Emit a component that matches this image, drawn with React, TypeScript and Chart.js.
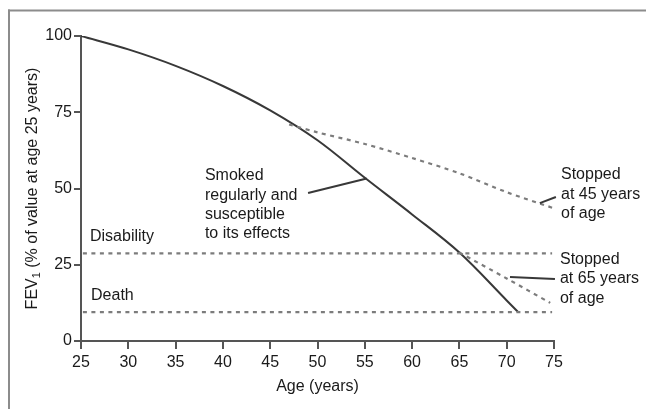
import React, { useEffect, useRef } from "react";
import { Chart, registerables } from "chart.js";

Chart.register(...registerables);

// ---- data ----
const smokedAges = [25, 30, 35, 40, 45, 50, 55, 60, 65, 70, 71.2];
const smokedValues = [100, 95.6, 90.2, 83.6, 75.6, 65.8, 53.5, 41.5, 29, 13.3, 9.5];

const stop45Ages = [47, 50, 55, 60, 65, 70, 75];
const stop45Values = [71, 68.4, 64.6, 60, 55, 48.8, 43.5];

const stop65Ages = [65, 70, 74.6];
const stop65Values = [29, 20.5, 12.5];

const disabilityLevel = 28.7;
const deathLevel = 9.5;
const thresholdStart = 25.2;
const thresholdEnd = 74.8;

const xTicks = [25, 30, 35, 40, 45, 50, 55, 60, 65, 70, 75];
const yTicks = [0, 25, 50, 75, 100];

const xTitle = "Age (years)";
const yTitleMain = "FEV";
const yTitleSub = "1";
const yTitleRest = " (% of value at age 25 years)";

// annotations in data coordinates
const textLabels = [
  { lines: ["Disability"], x: 25.95, y: 34.1 },
  { lines: ["Death"], x: 26.06, y: 14.75 },
  { lines: ["Smoked", "regularly and", "susceptible", "to its effects"], x: 38.1, y: 54.1 },
  { lines: ["Stopped", "at 45 years", "of age"], x: 75.74, y: 54.4 },
  { lines: ["Stopped", "at 65 years", "of age"], x: 75.63, y: 26.6 },
];
const pointerLines = [
  { x1: 49.0, y1: 48.5, x2: 55.2, y2: 53.3 },
  { x1: 73.5, y1: 45.2, x2: 75.2, y2: 47.2 },
  { x1: 70.35, y1: 21.0, x2: 75.1, y2: 20.3 },
];

const FONT = '"Liberation Sans", Arial, Helvetica, sans-serif';
const TEXT = "#1a1a1a";
const AXIS = "#555555";
const SOLID = "#383838";
const DASH = "#7c7c7c";

const toXY = (xs: number[], ys: number[]) => xs.map((x, i) => ({ x, y: ys[i] }));

const overlay = {
  id: "overlay",
  beforeDraw(chart: any) {
    const ctx = chart.ctx;
    ctx.save();
    ctx.fillStyle = "#ffffff";
    ctx.fillRect(0, 0, chart.width, chart.height);
    ctx.fillStyle = "#8c8c8c";
    ctx.fillRect(8, 9.5, chart.width - 8, 2);
    ctx.fillRect(8, 9.5, 2, chart.height - 9.5);
    ctx.restore();
  },
  afterDraw(chart: any) {
    const ctx = chart.ctx;
    const xs = chart.scales.x;
    const ys = chart.scales.y;
    const area = chart.chartArea;
    ctx.save();
    ctx.fillStyle = TEXT;
    ctx.font = `16px ${FONT}`;
    ctx.textBaseline = "middle";
    ctx.textAlign = "left";
    for (const t of textLabels) {
      const px = xs.getPixelForValue(t.x);
      const py = ys.getPixelForValue(t.y);
      t.lines.forEach((ln, i) => ctx.fillText(ln, px, py + i * 19.2));
    }
    ctx.strokeStyle = SOLID;
    ctx.lineWidth = 2;
    for (const p of pointerLines) {
      ctx.beginPath();
      ctx.moveTo(xs.getPixelForValue(p.x1), ys.getPixelForValue(p.y1));
      ctx.lineTo(xs.getPixelForValue(p.x2), ys.getPixelForValue(p.y2));
      ctx.stroke();
    }
    // x title
    ctx.textAlign = "center";
    ctx.fillText(xTitle, (area.left + area.right) / 2, area.bottom + 46);
    // y title with subscript
    const cx = 31;
    const cy = (area.top + area.bottom) / 2;
    ctx.translate(cx, cy);
    ctx.rotate(-Math.PI / 2);
    ctx.font = `16px ${FONT}`;
    const w1 = ctx.measureText(yTitleMain).width;
    const w3 = ctx.measureText(yTitleRest).width;
    ctx.font = `11px ${FONT}`;
    const w2 = ctx.measureText(yTitleSub).width;
    const total = w1 + w2 + w3;
    let sx = -total / 2;
    ctx.textAlign = "left";
    ctx.textBaseline = "alphabetic";
    ctx.font = `16px ${FONT}`;
    ctx.fillText(yTitleMain, sx, 6);
    sx += w1;
    ctx.font = `11px ${FONT}`;
    ctx.fillText(yTitleSub, sx, 9);
    sx += w2;
    ctx.font = `16px ${FONT}`;
    ctx.fillText(yTitleRest, sx, 6);
    ctx.restore();
  },
};

export default function App() {
  const ref = useRef<HTMLCanvasElement | null>(null);
  useEffect(() => {
    if (!ref.current) return;
    const dashed = {
      borderColor: DASH,
      borderWidth: 2.2,
      borderDash: [4, 4.5],
      pointRadius: 0,
      fill: false,
    };
    const chart = new Chart(ref.current, {
      type: "line",
      data: {
        datasets: [
          {
            label: "Disability",
            data: [
              { x: thresholdStart, y: disabilityLevel },
              { x: thresholdEnd, y: disabilityLevel },
            ],
            ...dashed,
          },
          {
            label: "Death",
            data: [
              { x: thresholdStart, y: deathLevel },
              { x: thresholdEnd, y: deathLevel },
            ],
            ...dashed,
          },
          {
            label: "Stopped at 45",
            data: toXY(stop45Ages, stop45Values),
            ...dashed,
            tension: 0.3,
          },
          {
            label: "Stopped at 65",
            data: toXY(stop65Ages, stop65Values),
            ...dashed,
            tension: 0.3,
          },
          {
            label: "Smoked regularly",
            data: toXY(smokedAges, smokedValues),
            borderColor: SOLID,
            borderWidth: 2,
            pointRadius: 0,
            fill: false,
            tension: 0.35,
          },
        ],
      } as any,
      options: {
        animation: false,
        responsive: false,
        devicePixelRatio: 1,
        layout: { padding: { left: 0, top: 36, right: 92, bottom: 0 } },
        plugins: {
          legend: { display: false },
          tooltip: { enabled: false },
          title: { display: false },
        },
        scales: {
          x: {
            type: "linear",
            min: 25,
            max: 75,
            afterFit(scale: any) {
              scale.height = 68;
            },
            afterBuildTicks(scale: any) {
              scale.ticks = xTicks.map((v) => ({ value: v }));
            },
            grid: {
              display: true,
              drawOnChartArea: false,
              drawTicks: true,
              tickLength: 8,
              color: AXIS,
              lineWidth: 2,
            },
            border: { display: true, color: AXIS, width: 2 },
            ticks: {
              color: TEXT,
              font: { family: FONT, size: 16 },
              padding: 4,
              maxRotation: 0,
              autoSkip: false,
            },
          },
          y: {
            type: "linear",
            min: 0,
            max: 100,
            afterFit(scale: any) {
              scale.width = 81;
            },
            afterBuildTicks(scale: any) {
              scale.ticks = yTicks.map((v) => ({ value: v }));
            },
            grid: {
              display: true,
              drawOnChartArea: false,
              drawTicks: true,
              tickLength: 7,
              color: AXIS,
              lineWidth: 2,
            },
            border: { display: true, color: AXIS, width: 2 },
            ticks: {
              color: TEXT,
              font: { family: FONT, size: 16 },
              padding: 2,
              autoSkip: false,
            },
          },
        },
      } as any,
      plugins: [overlay],
    });
    return () => chart.destroy();
  }, []);
  return (
    <div style={{ position: "fixed", left: 0, top: 0, width: 646, height: 409, background: "#fff" }}>
      <canvas ref={ref} width={646} height={409} style={{ width: 646, height: 409, display: "block" }} />
    </div>
  );
}
